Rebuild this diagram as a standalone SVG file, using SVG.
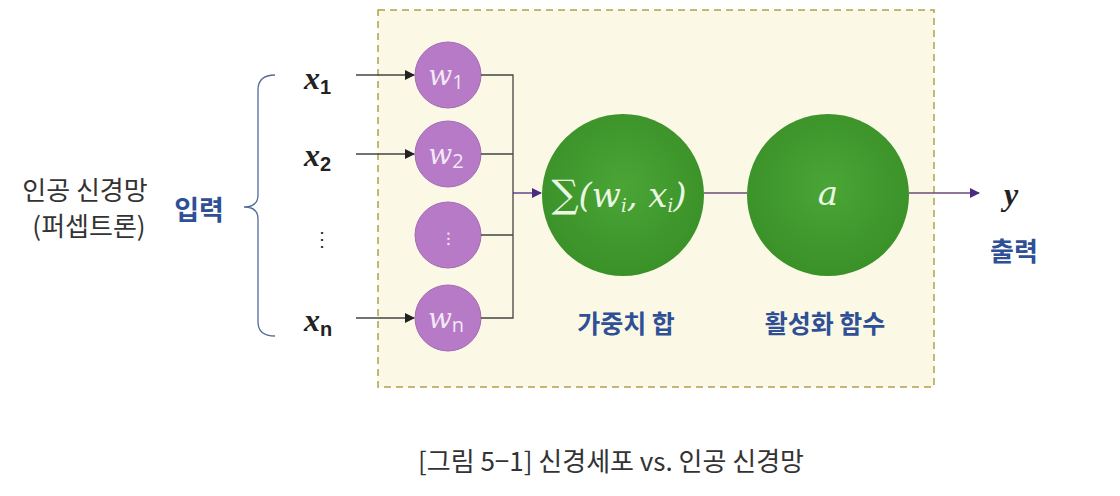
<svg xmlns="http://www.w3.org/2000/svg" width="1120" height="496" viewBox="0 0 1120 496">
<defs>
<marker id="ah" markerWidth="10" markerHeight="10" refX="9" refY="5" orient="auto" markerUnits="userSpaceOnUse"><path d="M0,0 L10,5 L0,10 z" fill="#222"/></marker>
<marker id="ahp" markerWidth="10" markerHeight="10" refX="9" refY="5" orient="auto" markerUnits="userSpaceOnUse"><path d="M0,0 L10,5 L0,10 z" fill="#4b2a82"/></marker>
<radialGradient id="gg" cx="50%" cy="45%" r="55%"><stop offset="0" stop-color="#4aa536"/><stop offset="1" stop-color="#3a9128"/></radialGradient>
<style>
.lbl{font-family:"Noto Sans CJK KR","Noto Sans",sans-serif;}
.blue{fill:#2f4f96;font-weight:bold;}
.xv{font-family:"Liberation Serif",serif;font-style:italic;font-weight:bold;font-size:32px;fill:#222;}
.sub{font-family:"Liberation Sans",sans-serif;font-style:normal;font-size:20px;}
.wp{fill:#b67ac6;stroke:#a46ab4;stroke-width:1;}
.wt{font-family:"DejaVu Serif","Liberation Serif",serif;font-style:italic;font-size:28px;fill:#f3e8f5;}
.gt{font-family:"DejaVu Serif","Liberation Serif",serif;font-style:italic;font-size:34px;fill:#eaf7e2;}
.ln{stroke:#444;stroke-width:1.3;fill:none;}
</style>
</defs>
<rect width="1120" height="496" fill="#ffffff"/>
<rect x="378" y="10" width="556" height="377" fill="#fbf9e5" stroke="#b3a04a" stroke-width="1.5" stroke-dasharray="7,5"/>

<g id="left-label">
<text class="lbl" x="85" y="200" font-size="26" fill="#333" text-anchor="middle">인공 신경망</text>
<text class="lbl" x="89" y="236" font-size="26" fill="#333" text-anchor="middle">(퍼셉트론)</text>
<text class="lbl blue" x="199" y="220" font-size="27" text-anchor="middle">입력</text>
<path d="M275,75 Q258,75 258,90 L258,195 Q258,207 244,207 Q258,207 258,219 L258,322 Q258,336 275,336" stroke="#556a9a" stroke-width="1.3" fill="none"/>
</g>

<g id="inputs">
<text class="xv" x="304" y="89">x<tspan class="sub" dy="5">1</tspan></text>
<text class="xv" x="304" y="166">x<tspan class="sub" dy="5">2</tspan></text>
<text x="322" y="246" font-family="Liberation Sans,sans-serif" font-size="20" fill="#333" text-anchor="middle">⋮</text>
<text class="xv" x="304" y="331">x<tspan class="sub" dy="5">n</tspan></text>
</g>

<g id="w1"><circle class="wp" cx="448" cy="75" r="33"/><text class="wt" x="446" y="85" text-anchor="middle">w<tspan font-family="Open Sans,sans-serif" font-style="normal" font-size="20" dy="4">1</tspan></text></g>
<g id="w2"><circle class="wp" cx="448" cy="154" r="33"/><text class="wt" x="446" y="164" text-anchor="middle">w<tspan font-family="Open Sans,sans-serif" font-style="normal" font-size="20" dy="4">2</tspan></text></g>
<g id="wdots"><circle class="wp" cx="448" cy="235" r="33"/><text x="448" y="245" font-family="Liberation Sans,sans-serif" font-size="18" fill="#f3e0f5" text-anchor="middle">⁝</text></g>
<g id="wn"><circle class="wp" cx="448" cy="318" r="33"/><text class="wt" x="446" y="328" text-anchor="middle">w<tspan font-family="Open Sans,sans-serif" font-style="normal" font-size="20" dy="4">n</tspan></text></g>

<g id="sum"><circle cx="623" cy="195" r="81" fill="url(#gg)"/><text class="gt" x="619" y="207" text-anchor="middle"><tspan font-style="normal" font-size="38">∑</tspan>(w<tspan font-size="18" dy="5">i</tspan><tspan dy="-5">, x</tspan><tspan font-size="18" dy="5">i</tspan><tspan dy="-5">)</tspan></text></g>
<g id="act"><circle cx="828" cy="195" r="81" fill="url(#gg)"/><text class="gt" x="828" y="205" text-anchor="middle">a</text></g>

<g id="out">
<text class="xv" x="1004" y="205">y</text>
<text class="lbl blue" x="1014" y="261" font-size="26" text-anchor="middle">출력</text>
</g>

<g id="captions">
<text class="lbl blue" x="626" y="333" font-size="25" text-anchor="middle">가중치 합</text>
<text class="lbl blue" x="825" y="333" font-size="25" text-anchor="middle">활성화 함수</text>
<text class="lbl" x="611" y="471" font-size="26" fill="#333" text-anchor="middle">[그림 5−1] 신경세포 vs. 인공 신경망</text>
</g>

<g id="connectors">
<line class="ln" x1="356" y1="75" x2="414" y2="75" marker-end="url(#ah)"/>
<line class="ln" x1="356" y1="154" x2="414" y2="154" marker-end="url(#ah)"/>
<line class="ln" x1="356" y1="318" x2="414" y2="318" marker-end="url(#ah)"/>
<path class="ln" d="M481,75 H513 V318 H481 M481,154 H513 M481,235 H513"/>
<line x1="513" y1="193" x2="541" y2="193" stroke="#4b2a82" stroke-width="1.3" marker-end="url(#ahp)"/>
<line x1="704" y1="193" x2="747" y2="193" stroke="#6a4a7a" stroke-width="1.3"/>
<line x1="909" y1="193" x2="979" y2="193" stroke="#6a4a7a" stroke-width="1.3" marker-end="url(#ahp)"/>
</g>
</svg>
